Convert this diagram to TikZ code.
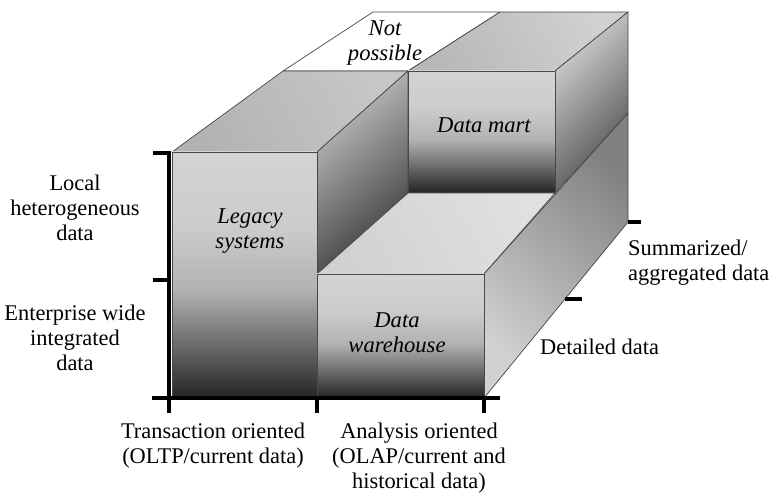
\documentclass[tikz,border=0pt]{standalone}
\usepackage{fontspec}
\setmainfont{Liberation Serif}
% vertical fade used on the front faces of the blocks: light above, dark at the foot
\pgfdeclareverticalshading{frontfade}{100bp}{%
  color(0bp)=(black!86); color(25bp)=(black!86); color(37bp)=(black!55);
  color(47bp)=(black!30); color(60bp)=(black!20); color(75bp)=(black!17);
  color(100bp)=(black!17)}
\tikzset{
  edge/.style={draw=black!72, line width=0.7pt, line join=round},
  frontface/.style={edge, shading=frontfade},
  axisline/.style={line width=3.6pt, black},
  tickline/.style={line width=3.2pt, black},
  lbl/.style={font=\fontsize{22.4}{25}\selectfont, align=center, inner sep=0pt},
  ilbl/.style={lbl, font=\fontsize{22.6}{25}\selectfont\itshape},
}
\begin{document}
\begin{tikzpicture}[x=1pt, y=-1pt]
\useasboundingbox (0,0) rectangle (771,494);

% corners of the blocks
\coordinate (lf1) at (172,152); \coordinate (lf2) at (317,152);
\coordinate (lf3) at (317,398); \coordinate (lf4) at (172,398);
\coordinate (lb1) at (283,71);  \coordinate (lb2) at (408,71);
\coordinate (np1) at (373,12);  \coordinate (np2) at (500,12);
\coordinate (dm2) at (555,71);  \coordinate (dm3) at (555,193);
\coordinate (dm4) at (408,193); \coordinate (dmb) at (628,12);
\coordinate (sl1) at (317,274); \coordinate (sl2) at (484,274);
\coordinate (sl3) at (484,398); \coordinate (sr1) at (628,113);
\coordinate (sr2) at (628,222);

% empty cell at the top
\filldraw[edge, fill=white] (lb1) -- (lb2) -- (np2) -- (np1) -- cycle;

% legacy systems column
\shade[edge, top color=black!22, bottom color=black!30, shading angle=-60]
  (lf1) -- (lf2) -- (lb2) -- (lb1) -- cycle;
\shade[edge, top color=black!22, bottom color=black!78, shading angle=40]
  (lf2) -- (lb2) -- (dm4) -- (sl1) -- cycle;
\shade[frontface] (lf1) -- (lf2) -- (lf3) -- (lf4) -- cycle;

% data mart block
\shade[edge, top color=black!18, bottom color=black!28, shading angle=-60]
  (lb2) -- (dm2) -- (dmb) -- (np2) -- cycle;
\shade[edge, top color=black!16, bottom color=black!70, shading angle=45]
  (dm2) -- (dmb) -- (sr1) -- (dm3) -- cycle;
\shade[frontface] (lb2) -- (dm2) -- (dm3) -- (dm4) -- cycle;

% data warehouse slab
\shade[edge, top color=black!12, bottom color=black!18, shading angle=-60]
  (sl1) -- (sl2) -- (dm3) -- (dm4) -- cycle;
\shade[edge, top color=black!50, bottom color=black!18, shading angle=-40]
  (sl2) -- (sr1) -- (sr2) -- (sl3) -- cycle;
\shade[frontface] (sl1) -- (sl2) -- (sl3) -- (lf3) -- cycle;

% axes and ticks
\coordinate (ax0) at (169,151); \coordinate (ax1) at (169,413);
\coordinate (ay0) at (152,398); \coordinate (ay1) at (500,398);
\draw[axisline] (ax0) -- (ax1);
\draw[axisline] (ay0) -- (ay1);
\draw[tickline] (153,153) -- (ax0 |- 0,153);
\draw[tickline] (153,280) -- (ax0 |- 0,280);
\draw[tickline] (lf3) -- ++(0,15);
\draw[tickline] (sl3) -- ++(0,15);
\draw[tickline] (sr2) -- ++(13,0);
\draw[tickline] (565,299) -- (582,299);

% block labels
\node[ilbl] (np)  at (385,43)  {Not\\possible};
\node[ilbl] (dm)  at (484,125) {Data mart};
\node[ilbl] (ls)  at (250,231) {Legacy\\systems};
\node[ilbl] (dw)  at (397,333) {Data\\warehouse};

% axis labels
\node[lbl] (loc) at (75,208) {Local\\heterogeneous\\data};
\node[lbl] (ent) at (75,338) {Enterprise wide\\integrated\\data};
\node[lbl] (tra) at (213,446) {Transaction oriented\\(OLTP/current data)};
\node[lbl] (ana) at (419,458) {Analysis oriented\\(OLAP/current and\\historical data)};
\node[lbl, anchor=west, align=left] (sum) at (628,263) {Summarized/\\aggregated data};
\node[lbl, anchor=west] (det) at (540,347) {Detailed data};
\end{tikzpicture}
\end{document}
